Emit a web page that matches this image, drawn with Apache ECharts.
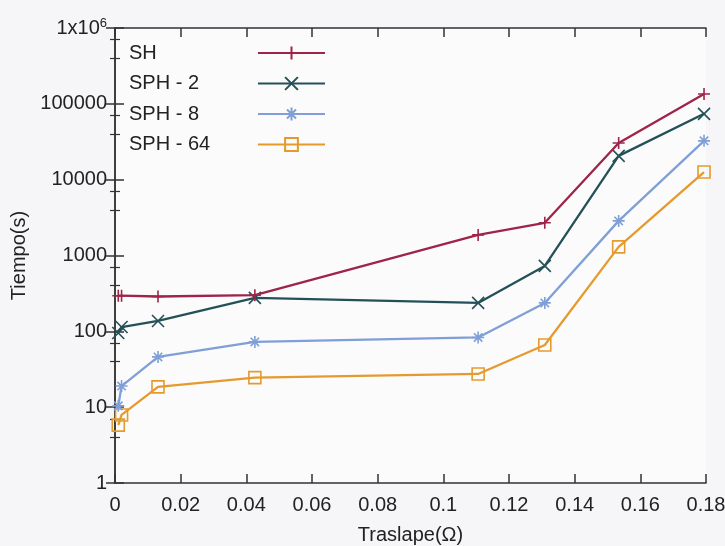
<!DOCTYPE html>
<html>
<head>
<meta charset="utf-8">
<script src="https://cdn.jsdelivr.net/npm/echarts@6/dist/echarts.min.js"></script>
<style>html,body{margin:0;padding:0;background:#f6f6f8}#c{width:725px;height:546px}</style>
</head>
<body>
<div id="c"></div>
<script>
const xValues = [0.001, 0.002, 0.0131, 0.0426, 0.1106, 0.1309, 0.1534, 0.1794];
const seriesNames = ['SH', 'SPH - 2', 'SPH - 8', 'SPH - 64'];
const sh    = [295, 295, 288, 300, 1870, 2700, 30500, 135000];
const sph2  = [95, 114, 137, 276, 237, 729, 20600, 73800];
const sph8  = [10.4, 19, 46, 72.5, 83, 237, 2860, 32500];
const sph64 = [5.8, 7.9, 18.5, 24.5, 27.4, 66, 1300, 12600];
const xTicks = [0, 0.02, 0.04, 0.06, 0.08, 0.1, 0.12, 0.14, 0.16, 0.18];
const yTicks = [1, 10, 100, 1000, 10000, 100000, 1000000];

const colors = ['#9e2449', '#245157', '#7f9fd6', '#e59a2e'];
const symbols = [
  'path://M5,0L5,10M0,5L10,5',
  'path://M0,0L10,10M10,0L0,10',
  'path://M5,0L5,10M0,5L10,5M1.5,1.5L8.5,8.5M8.5,1.5L1.5,8.5',
  'path://M0,0L10,0L10,10L0,10Z'
];
const allData = [sh, sph2, sph8, sph64];

const font = 'Liberation Sans';
const chart = echarts.init(document.getElementById('c'));

const series = allData.map((vals, i) => ({
  name: seriesNames[i],
  type: 'line',
  xAxisIndex: 0,
  yAxisIndex: 0,
  data: vals.map((v, j) => [xValues[j], v]),
  symbol: symbols[i],
  symbolSize: 12,
  showAllSymbol: true,
  lineStyle: { color: colors[i], width: 2.3 },
  itemStyle: { color: 'transparent', borderColor: colors[i], borderWidth: 1.6 },
  emphasis: { disabled: true },
  animation: false,
  z: 10 - i
}));

const tickFmt = v => {
  for (const t of xTicks) if (Math.abs(v - t) < 1e-9) return t === 0 ? '0' : String(+t.toFixed(2));
  return '';
};

chart.setOption({
  backgroundColor: '#f6f6f8',
  animation: false,
  textStyle: { fontFamily: font },
  grid: { left: 115, right: 19, top: 28, bottom: 63, outerBoundsMode: 'none', containLabel: false,
          show: true, backgroundColor: '#fbfbfc', borderWidth: 0 },
  legend: {
    left: 124, top: 38, orient: 'vertical', align: 'right',
    itemWidth: 67, itemHeight: 16, itemGap: 10.5,
    data: seriesNames,
    selectedMode: false,
    formatter: n => '{a|' + n + '}',
    textStyle: { rich: { a: { width: 124, align: 'left', fontSize: 20, fontFamily: font, color: '#222' } } }
  },
  xAxis: [{
    type: 'value', min: 0, max: 0.18, interval: 0.02,
    name: 'Traslape(Ω)', nameLocation: 'middle', nameGap: 42,
    nameTextStyle: { fontSize: 20, color: '#222', fontFamily: font },
    axisLine: { onZero: false, lineStyle: { color: '#333', width: 1.5 } },
    axisTick: { inside: true, length: 9, lineStyle: { color: '#333', width: 1.5 } },
    axisLabel: { fontSize: 20, color: '#222', margin: 12, formatter: tickFmt, fontFamily: font },
    splitLine: { show: false }
  }, {
    type: 'value', min: 0, max: 0.18, interval: 0.02, position: 'top',
    axisLine: { onZero: false, lineStyle: { color: '#333', width: 1.5 } },
    axisTick: { inside: true, length: 9, lineStyle: { color: '#333', width: 1.5 } },
    axisLabel: { show: false }, splitLine: { show: false }
  }],
  yAxis: [{
    type: 'log', logBase: 10, min: 1, max: 1000000,
    name: 'Tiempo(s)', nameLocation: 'middle', nameGap: 79, nameRotate: 90,
    nameTextStyle: { fontSize: 20, color: '#222', fontFamily: font },
    axisLine: { lineStyle: { color: '#333', width: 1.5 } },
    axisTick: { inside: true, length: 9, lineStyle: { color: '#333', width: 1.5 } },
    minorTick: { show: true, splitNumber: 3, length: 5, lineStyle: { color: '#333', width: 1.2 } },
    axisLabel: {
      fontSize: 20, color: '#222', margin: 8, fontFamily: font,
      formatter: v => {
        const t = yTicks.find(k => Math.abs(Math.log10(k) - Math.log10(v)) < 1e-6);
        if (t === undefined) return '';
        return t === 1000000 ? '{a|1x10}{b|6}' : String(t);
      },
      rich: {
        a: { fontSize: 20, color: '#222', fontFamily: font },
        b: { fontSize: 13, color: '#222', fontFamily: font, verticalAlign: 'bottom', padding: [0, 0, 10, 0] }
      }
    },
    splitLine: { show: false }
  }, {
    type: 'log', logBase: 10, min: 1, max: 1000000, position: 'right',
    axisLine: { lineStyle: { color: '#333', width: 1.5 } },
    axisTick: { inside: true, length: 9, lineStyle: { color: '#333', width: 1.5 } },
    minorTick: { show: true, splitNumber: 3, length: 5, lineStyle: { color: '#333', width: 1.2 } },
    axisLabel: { show: false }, splitLine: { show: false }
  }],
  series: series
});
</script>
</body>
</html>
